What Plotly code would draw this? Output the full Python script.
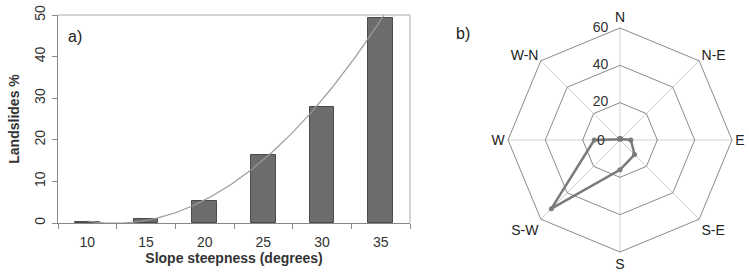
import numpy as np
import plotly.graph_objects as go

# Panel a) data
slope_deg = [10, 15, 20, 25, 30, 35]
landslides_pct = [0.2, 1.0, 5.2, 16.3, 28.0, 49.4]

# Panel b) data
aspects = ["N", "N-E", "E", "S-E", "S", "S-W", "W", "W-N"]
aspect_pct = [0.8, 0.8, 5.8, 11.0, 16.0, 52.0, 13.8, 0.5]
radial_ticks = [0, 20, 40, 60]

W, H = 749, 275
polar_x = [508 / W, 732 / W]
polar_y = [23 / H, 247 / H]

fig = go.Figure()

fig.add_trace(go.Bar(
    x=slope_deg, y=landslides_pct, width=2.1,
    marker=dict(color="#6c6c6c", line=dict(color="#4a4a4a", width=1)),
    xaxis="x", yaxis="y", showlegend=False,
))

# polynomial (order 2) trendline fitted to the bars, as in the original
coef = np.polyfit(slope_deg, landslides_pct, 2)
xt = np.linspace(min(slope_deg), max(slope_deg) + 0.3, 200)
yt = np.polyval(coef, xt)
fig.add_trace(go.Scatter(
    x=xt, y=yt, mode="lines", line=dict(color="#9a9a9a", width=1.2),
    xaxis="x", yaxis="y", showlegend=False, cliponaxis=True,
))

r_closed = aspect_pct + aspect_pct[:1]
t_closed = aspects + aspects[:1]
fig.add_trace(go.Scatterpolar(
    r=r_closed, theta=t_closed, mode="lines+markers",
    line=dict(color="#7a7a7a", width=2.5),
    marker=dict(color="#7a7a7a", size=5),
    showlegend=False, subplot="polar",
))

# radial tick labels (non-zero), placed left of the N spoke (as in the original)
nz_ticks = [v for v in radial_ticks if v > 0]
fig.add_trace(go.Scatterpolar(
    r=nz_ticks, theta=[aspects[0]] * len(nz_ticks), mode="text",
    text=[f"{v}\u00a0\u00a0\u00a0" for v in nz_ticks], textposition="middle left",
    textfont=dict(size=14, color="#333"), cliponaxis=False,
    showlegend=False, subplot="polar", hoverinfo="skip",
))

font = "Liberation Sans, Arial, sans-serif"

fig.update_layout(
    width=W, height=H,
    margin=dict(l=0, r=0, t=0, b=0, autoexpand=False),
    paper_bgcolor="white", plot_bgcolor="white",
    font=dict(family=font, size=13, color="#222"),
    bargap=0,
    xaxis=dict(
        domain=[58 / W, 410 / W], range=[7.5, 37.5], automargin=False,
        tickvals=slope_deg, ticks="", showline=True, linecolor="#888", linewidth=1,
        mirror=False, showgrid=False, zeroline=False,
        minor=dict(tickvals=[7.5, 12.5, 17.5, 22.5, 27.5, 32.5, 37.5], ticks="outside",
                   ticklen=5, tickcolor="#888", showgrid=False),
        title=dict(text="<b>Slope steepness (degrees)</b>", font=dict(size=14, color="#333"), standoff=0),
        tickfont=dict(size=14, color="#333"), ticklabelstandoff=6,
        anchor="y",
    ),
    yaxis=dict(
        domain=[52 / H, 260 / H], range=[0, 50], dtick=10, automargin=False,
        ticks="outside", ticklen=5, tickcolor="#888",
        showline=True, linecolor="#888", linewidth=1, showgrid=False, zeroline=False,
        tickangle=-90, tickfont=dict(size=14, color="#333"), ticklabelstandoff=1,
        title=dict(text="<b>Landslides %</b>", font=dict(size=14, color="#333"), standoff=9),
        anchor="x",
    ),
    polar=dict(
        domain=dict(x=polar_x, y=polar_y),
        bgcolor="white",
        gridshape="linear",
        radialaxis=dict(
            range=[0, 60], tickvals=radial_ticks, angle=90,
            showline=False, ticks="", gridcolor="#8a8a8a", gridwidth=1,
            showticklabels=False,
        ),
        angularaxis=dict(
            direction="clockwise", rotation=90, categoryorder="array", categoryarray=aspects,
            gridcolor="#d0d0d0", linecolor="#8a8a8a", linewidth=1, showline=True,
            ticks="", tickfont=dict(size=14, color="#222"),
        ),
    ),
    annotations=[
        dict(text="a)", x=66 / W, y=(275 - 37) / H, xref="paper", yref="paper", showarrow=False,
             font=dict(size=16, color="#222"), xanchor="left", yanchor="middle"),
        dict(text="b)", x=454 / W, y=(275 - 33) / H, xref="paper", yref="paper", showarrow=False,
             font=dict(size=16, color="#222"), xanchor="left", yanchor="middle"),
        # the "0" radial label at the centre of the radar
        dict(text=str(radial_ticks[0]), x=sum(polar_x) / 2, y=sum(polar_y) / 2,
             xref="paper", yref="paper", showarrow=False, xanchor="right", yanchor="middle",
             xshift=-13, font=dict(size=14, color="#333")),
    ],
    shapes=[
        dict(type="line", xref="paper", yref="paper", x0=58 / W, x1=410 / W, y0=260 / H, y1=260 / H,
             line=dict(color="#aaa", width=1)),
        dict(type="line", xref="paper", yref="paper", x0=410 / W, x1=410 / W, y0=52 / H, y1=260 / H,
             line=dict(color="#aaa", width=1)),
    ],
)

fig.write_html("out.html", config={"displayModeBar": False},
               post_script="document.body.style.margin='0';document.body.style.padding='0';")
